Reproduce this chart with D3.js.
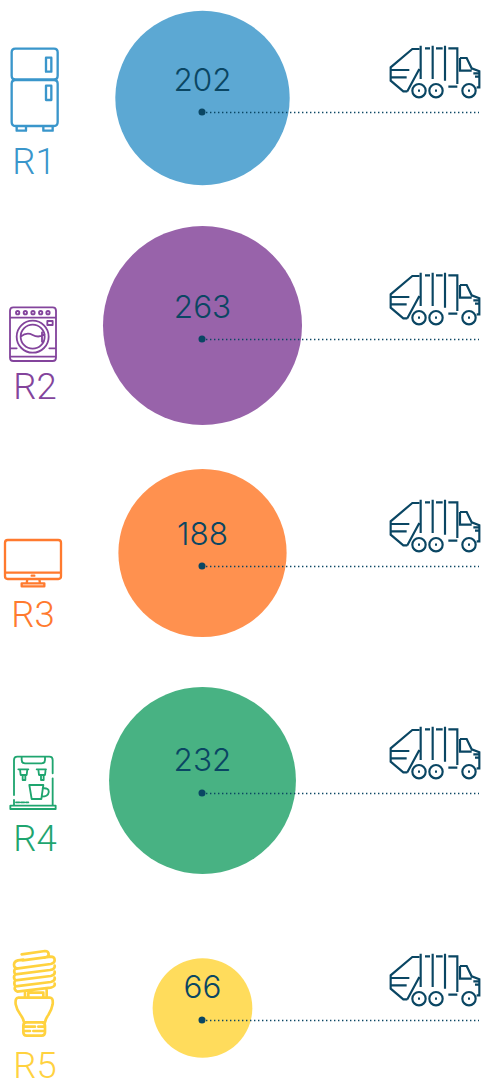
<!DOCTYPE html>
<html>
<head>
<meta charset="utf-8" />
<script src="https://cdn.jsdelivr.net/npm/d3@7"></script>
<style>
  html, body { margin: 0; padding: 0; background: #fff; }
  svg { display: block; }
</style>
</head>
<body>
<svg width="481" height="1080"></svg>
<script>
  const categories = ["R1", "R2", "R3", "R4", "R5"];
  const values = [202, 263, 188, 232, 66];

  const circleColors = ["#5ca8d3", "#9863aa", "#ff914f", "#48b283", "#ffdc5c"];
  const labelColors = ["#3a96cb", "#83449c", "#ff7a2e", "#1fa56f", "#ffd23f"];
  const iconWidths = [7, 5.5, 7, 5.5, 8];
  const dark = "#0a4663";

  const svg = d3.select("svg");

  // circles, numbers and trucks don't share quite the same row step
  const y = d3.scalePoint().domain(categories).range([98, 1008]);
  const yNum = d3.scalePoint().domain(categories).range([91, 998]);
  const yLine = d3.scalePoint().domain(categories).range([112, 1020]);
  const r = d3.scaleSqrt().domain([0, 263]).range([0, 99.5]);
  const fill = d3.scaleOrdinal().domain(categories).range(circleColors);
  const ink = d3.scaleOrdinal().domain(categories).range(labelColors);
  const iconWidth = d3.scaleOrdinal().domain(categories).range(iconWidths);

  // icons drawn at 3x, same coordinates as a 3x crop of the row
  const icons = {
    R1: { x: 0, y: 30, d: "M46 56H162Q173 56 173 67V137Q173 148 162 148H46Q35 148 35 137V67Q35 56 46 56Z M46 150H162Q173 150 173 161V276Q173 288 162 288H46Q35 288 35 276V161Q35 150 46 150Z M138 83H154V125H138Z M138 167H154V210H138Z M50 288V302H78V288 M130 288V302H158V288" },
    R2: { x: 0, y: 295, d: "M40 37H158Q168 37 168 47V188Q168 198 158 198H40Q30 198 30 188V47Q30 37 40 37Z M30 68H168 M30 160H50 M148 160H168 M30 185H168 M48 53a5 5 0 1 0 10 0a5 5 0 1 0 -10 0 M71 53a5 5 0 1 0 10 0a5 5 0 1 0 -10 0 M94 53a5 5 0 1 0 10 0a5 5 0 1 0 -10 0 M117 53a5 5 0 1 0 10 0a5 5 0 1 0 -10 0 M139 53a5 5 0 1 0 10 0a5 5 0 1 0 -10 0 M142 78H158V90H142Z M50 125a48 48 0 1 0 96 0a48 48 0 1 0 -96 0 M62 125a36 36 0 1 0 72 0a36 36 0 1 0 -72 0 M62 125Q80 110 98 120T134 118 M126 112V140" },
    R3: { x: 0, y: 530, d: "M23 30H175Q183 30 183 38V139Q183 147 175 147H23Q15 147 15 139V38Q15 30 23 30Z M15 128H183 M95 137H103 M82 147L80 160 M118 147L120 160 M65 160H133V169H65Z" },
    R4: { x: 0, y: 745, d: "M42 150V45Q42 35 52 35H148Q158 35 158 45V85 M158 100V182 M42 165V182 M65 35V45Q65 55 75 55H125Q135 55 135 45V35 M55 73H85 M110 73H138 M60 73L62 90H80L82 73 M68 90V105H76V90 M115 73L117 90H135L137 73 M123 90V105H131V90 M88 120H130L124 162H95Z M128 130Q148 128 146 142Q144 155 125 155 M48 172H58 M63 172H73 M78 172H85 M31 182H167V192H31Z" },
    R5: { x: 0, y: 945, d: "M65 28L135 18Q146 18 146 28Q146 36 135 38 M68 46L152 35Q164 35 164 46Q164 55 152 57L55 70Q42 70 42 59Q42 49 54 46L70 44 M55 70L45 72Q40 80 46 88L150 75Q166 72 164 62 M46 88Q38 96 46 106L152 93Q166 90 164 80 M46 106Q40 114 46 124L152 111Q166 108 164 98 M46 124Q40 134 52 140L152 128Q166 125 164 116 M75 155V143 M85 155V143H130V155 M140 155V135 M55 158H150Q160 158 158 178Q155 195 145 210Q136 222 135 232H72Q71 222 62 210Q50 195 47 178Q45 158 55 158Z M80 232H125Q135 232 135 242V262Q135 272 125 272H80Q70 272 70 262V242Q70 232 80 232Z M70 245H105 M115 245H135 M70 258H90 M100 258H135" }
  };

  const truck = "M118 45H97L32 100V140L70 172H82 M118 105L82 172 M32 108H88 M32 130H80 M122 35V135 M158 35V135 M195 35V140 M135 43H150 M168 43H188 M205 43H232V150 M205 158H232 M240 72H260L275 103L298 112V160H290 M240 72V110H275 M280 118H298V128H285 M97 170a20 20 0 1 0 40 0a20 20 0 1 0 -40 0 M148 170a20 20 0 1 0 40 0a20 20 0 1 0 -40 0 M247 170a20 20 0 1 0 40 0a20 20 0 1 0 -40 0 M114 170h6 M165 170h6 M264 170h6";

  const rows = svg
    .selectAll("g.row")
    .data(categories.map((c, i) => ({ name: c, value: values[i] })))
    .join("g")
    .attr("class", "row");

  rows
    .append("circle")
    .attr("cx", 202.5)
    .attr("cy", (d) => y(d.name))
    .attr("r", (d) => r(d.value))
    .attr("fill", (d) => fill(d.name));

  rows
    .append("text")
    .attr("x", 202.5)
    .attr("y", (d) => yNum(d.name))
    .attr("text-anchor", "middle")
    .attr("font-family", "Inter")
    .attr("font-weight", 300)
    .attr("font-size", 31.5)
    .attr("fill", dark)
    .text((d) => d.value);

  // dotted line runs out to the truck
  rows
    .append("line")
    .attr("x1", 202)
    .attr("x2", 479)
    .attr("y1", (d) => yLine(d.name) + 0.5)
    .attr("y2", (d) => yLine(d.name) + 0.5)
    .attr("stroke", dark)
    .attr("stroke-width", 1.4)
    .attr("stroke-dasharray", "1.4 2.6");

  rows
    .append("circle")
    .attr("cx", 202)
    .attr("cy", (d) => yLine(d.name))
    .attr("r", 3.5)
    .attr("fill", dark);

  rows
    .append("path")
    .attr("d", truck)
    .attr("transform", (d) => `translate(380,${yLine(d.name) - 78}) scale(${1 / 3})`)
    .attr("fill", "none")
    .attr("stroke", dark)
    .attr("stroke-width", 6.5);

  rows
    .append("path")
    .attr("d", (d) => icons[d.name].d)
    .attr("transform", (d) => `translate(${icons[d.name].x},${icons[d.name].y}) scale(${1 / 3})`)
    .attr("fill", "none")
    .attr("stroke", (d) => ink(d.name))
    .attr("stroke-width", (d) => iconWidth(d.name))
    .attr("stroke-linejoin", "round")
    .attr("stroke-linecap", "round");

  rows
    .append("text")
    .attr("x", (d, i) => [34, 35, 33, 35, 35][i])
    .attr("y", (d, i) => [174, 399, 627, 851, 1078][i])
    .attr("text-anchor", "middle")
    .attr("font-family", "Roboto")
    .attr("font-weight", 300)
    .attr("font-size", 36.5)
    .attr("fill", (d) => ink(d.name))
    .text((d) => d.name);
</script>
</body>
</html>
